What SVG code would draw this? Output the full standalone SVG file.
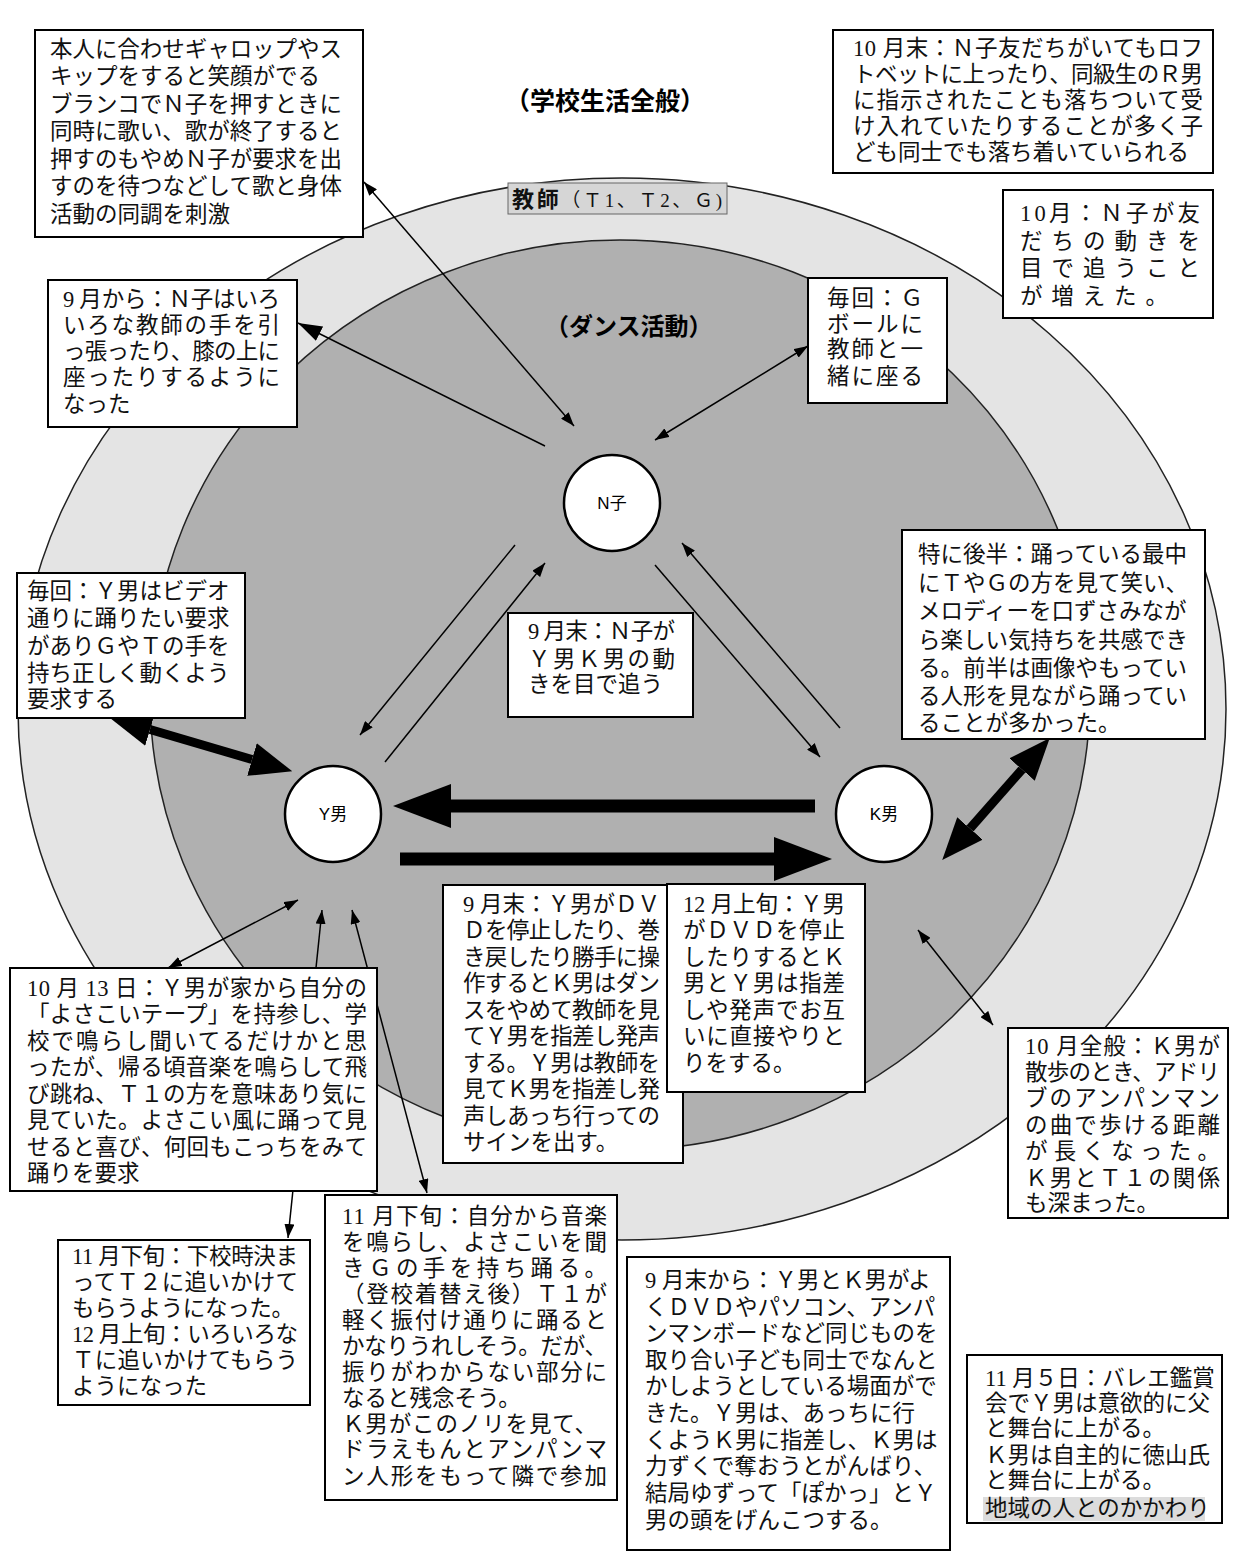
<svg xmlns="http://www.w3.org/2000/svg" width="1244" height="1568" viewBox="0 0 1244 1568">
<style>
.box{fill:#fff;stroke:#000;stroke-width:2}
.t{font-family:"Liberation Serif","Noto Sans CJK JP",serif;font-size:22.5px;fill:#111}
.n{font-family:"Liberation Sans","Noto Sans CJK JP",sans-serif;font-size:17px;fill:#000;text-anchor:middle}
.ttl{font-family:"Noto Sans CJK JP",sans-serif;font-weight:bold;fill:#000}
.cn{fill:#fff;stroke:#000;stroke-width:2.5}
.ln{stroke:#000;stroke-width:1.5;fill:none}
</style>
<defs>
<marker id="ah" markerUnits="userSpaceOnUse" viewBox="0 0 14 10" markerWidth="14" markerHeight="10" refX="14" refY="5" orient="auto-start-reverse"><path d="M0,0L14,5L0,10z" fill="#000"/></marker>
<marker id="mh" markerUnits="userSpaceOnUse" viewBox="0 0 24 16" markerWidth="24" markerHeight="16" refX="24" refY="8" orient="auto-start-reverse"><path d="M0,0L24,8L0,16z" fill="#000"/></marker>
<marker id="bh" markerUnits="userSpaceOnUse" viewBox="0 0 58 44" markerWidth="58" markerHeight="44" refX="0" refY="22" orient="auto-start-reverse"><path d="M0,0L58,22L0,44z" fill="#000"/></marker>
<marker id="dh" markerUnits="userSpaceOnUse" viewBox="0 0 42 34" markerWidth="42" markerHeight="34" refX="0" refY="17" orient="auto-start-reverse"><path d="M0,0L42,17L0,34z" fill="#000"/></marker>
</defs>
<rect width="1244" height="1568" fill="#fff"/>
<g id="areas">
<ellipse cx="622" cy="709" rx="604" ry="531" fill="#e4e4e4" stroke="#222" stroke-width="1.5"/>
<ellipse cx="620" cy="695" rx="470" ry="455" fill="#b0b0b0" stroke="#222" stroke-width="1.5"/>
<text class="ttl" x="505" y="110" font-size="25">（学校生活全般）</text>
<text class="ttl" x="545" y="335" font-size="24">（ダンス活動）</text>
<rect x="508" y="183" width="219" height="31" fill="#d6d6d6" stroke="#666" stroke-width="1"/>
<text x="512" y="207" font-family="Liberation Serif,'Noto Sans CJK JP',serif" font-size="19" fill="#111" textLength="210"><tspan font-family="Liberation Sans,'Noto Sans CJK JP',sans-serif" font-weight="bold" font-size="22">教師</tspan>（Ｔ1、Ｔ2、Ｇ)</text>
</g>
<g id="connectors">
<line class="ln" x1="364" y1="182" x2="574" y2="426" marker-start="url(#ah)" marker-end="url(#ah)"/>
<line class="ln" x1="545" y1="446" x2="298" y2="323" stroke-width="2.5" marker-end="url(#mh)"/>
<line class="ln" x1="808" y1="346" x2="655" y2="440" marker-start="url(#ah)" marker-end="url(#ah)"/>
<line class="ln" x1="515" y1="545" x2="360" y2="735" marker-end="url(#ah)"/>
<line class="ln" x1="385" y1="762" x2="545" y2="563" marker-end="url(#ah)"/>
<line class="ln" x1="655" y1="565" x2="820" y2="757" marker-end="url(#ah)"/>
<line class="ln" x1="840" y1="728" x2="682" y2="543" marker-end="url(#ah)"/>
<line x1="815" y1="806" x2="451" y2="806" stroke="#000" stroke-width="13" marker-end="url(#bh)"/>
<line x1="400" y1="859" x2="774" y2="859" stroke="#000" stroke-width="13" marker-end="url(#bh)"/>
<line x1="150" y1="729.5" x2="252" y2="759.5" stroke="#000" stroke-width="9" marker-start="url(#dh)" marker-end="url(#dh)"/>
<line x1="1022" y1="769.5" x2="970" y2="828.5" stroke="#000" stroke-width="9" marker-start="url(#dh)" marker-end="url(#dh)"/>
<line class="ln" x1="918" y1="930" x2="993" y2="1025" marker-start="url(#ah)" marker-end="url(#ah)"/>
<line class="ln" x1="298" y1="900" x2="168" y2="968" marker-start="url(#ah)" marker-end="url(#ah)"/>
<line class="ln" x1="322" y1="910" x2="288" y2="1238" marker-start="url(#ah)" marker-end="url(#ah)"/>
<line class="ln" x1="352" y1="910" x2="427" y2="1193" marker-start="url(#ah)" marker-end="url(#ah)"/>
</g>
<g id="node-N">
<circle class="cn" cx="612" cy="503" r="48"/>
<text class="n" x="612" y="509">N子</text>
</g>
<g id="node-Y">
<circle class="cn" cx="333" cy="814" r="48"/>
<text class="n" x="333" y="820">Y男</text>
</g>
<g id="node-K">
<circle class="cn" cx="884" cy="814" r="48"/>
<text class="n" x="884" y="820">K男</text>
</g>
<g id="box1">
<rect class="box" x="35" y="30" width="328" height="207"/>
<text class="t" x="50" y="56.5" textLength="292">本人に合わせギャロップやス</text>
<text class="t" x="50" y="84">キップをすると笑顔がでる</text>
<text class="t" x="50" y="111.5" textLength="292">ブランコでＮ子を押すときに</text>
<text class="t" x="50" y="139" textLength="292">同時に歌い、歌が終了すると</text>
<text class="t" x="50" y="166.5" textLength="292">押すのもやめＮ子が要求を出</text>
<text class="t" x="50" y="194" textLength="292">すのを待つなどして歌と身体</text>
<text class="t" x="50" y="221.5">活動の同調を刺激</text>
</g>
<g id="box2">
<rect class="box" x="833" y="30" width="380" height="143"/>
<text class="t" x="853" y="55.5" textLength="350">10 月末：Ｎ子友だちがいてもロフ</text>
<text class="t" x="853" y="81.5" textLength="350">トベットに上ったり、同級生のＲ男</text>
<text class="t" x="853" y="107.5" textLength="350">に指示されたことも落ちついて受</text>
<text class="t" x="853" y="133.5" textLength="350">け入れていたりすることが多く子</text>
<text class="t" x="853" y="159.5" textLength="336">ども同士でも落ち着いていられる</text>
</g>
<g id="box3">
<rect class="box" x="48" y="280" width="249" height="147"/>
<text class="t" x="63" y="306.5" textLength="217">9 月から：Ｎ子はいろ</text>
<text class="t" x="63" y="332.7" textLength="217">いろな教師の手を引</text>
<text class="t" x="63" y="359" textLength="217">っ張ったり、膝の上に</text>
<text class="t" x="63" y="385" textLength="217">座ったりするように</text>
<text class="t" x="63" y="411.5">なった</text>
</g>
<g id="box4">
<rect class="box" x="808" y="278" width="139" height="125"/>
<text class="t" x="827" y="305.5" textLength="96">毎回：Ｇ</text>
<text class="t" x="827" y="331.5" textLength="96">ボールに</text>
<text class="t" x="827" y="357" textLength="96">教師と一</text>
<text class="t" x="827" y="383.5" textLength="96">緒に座る</text>
</g>
<g id="box5">
<rect class="box" x="1003" y="190" width="210" height="128"/>
<text class="t" x="1020" y="221" textLength="180">10月：Ｎ子が友</text>
<text class="t" x="1020" y="249" textLength="180">だちの動きを</text>
<text class="t" x="1020" y="276" textLength="180">目で追うこと</text>
<text class="t" x="1020" y="304" textLength="148">が増えた。</text>
</g>
<g id="box6">
<rect class="box" x="902" y="530" width="303" height="209"/>
<text class="t" x="918" y="561.5">特に後半：踊っている最中</text>
<text class="t" x="918" y="590.5">にＴやＧの方を見て笑い、</text>
<text class="t" x="918" y="618.5">メロディーを口ずさみなが</text>
<text class="t" x="918" y="647.5">ら楽しい気持ちを共感でき</text>
<text class="t" x="918" y="675.5">る。前半は画像やもってい</text>
<text class="t" x="918" y="703.5">る人形を見ながら踊ってい</text>
<text class="t" x="918" y="730.5">ることが多かった。</text>
</g>
<g id="box7">
<rect class="box" x="17" y="573" width="228" height="145"/>
<text class="t" x="27" y="598.5">毎回：Ｙ男はビデオ</text>
<text class="t" x="27" y="625.5">通りに踊りたい要求</text>
<text class="t" x="27" y="653.5">がありＧやＴの手を</text>
<text class="t" x="27" y="680.5">持ち正しく動くよう</text>
<text class="t" x="27" y="706.5">要求する</text>
</g>
<g id="box8">
<rect class="box" x="508" y="613" width="185" height="104"/>
<text class="t" x="528" y="638.5" textLength="147">9 月末：Ｎ子が</text>
<text class="t" x="528" y="666.5" textLength="147">Ｙ男Ｋ男の動</text>
<text class="t" x="528" y="691.5">きを目で追う</text>
</g>
<g id="box9">
<rect class="box" x="443" y="885" width="240" height="278"/>
<text class="t" x="463" y="911.5" textLength="197">9 月末：Ｙ男がＤＶ</text>
<text class="t" x="463" y="938" textLength="197">Ｄを停止したり、巻</text>
<text class="t" x="463" y="964.5" textLength="197">き戻したり勝手に操</text>
<text class="t" x="463" y="991" textLength="197">作するとＫ男はダン</text>
<text class="t" x="463" y="1017.5" textLength="197">スをやめて教師を見</text>
<text class="t" x="463" y="1044" textLength="197">てＹ男を指差し発声</text>
<text class="t" x="463" y="1070.5" textLength="197">する。Ｙ男は教師を</text>
<text class="t" x="463" y="1097" textLength="197">見てＫ男を指差し発</text>
<text class="t" x="463" y="1123.5" textLength="197">声しあっち行っての</text>
<text class="t" x="463" y="1150">サインを出す。</text>
</g>
<g id="box10">
<rect class="box" x="667" y="884" width="198" height="208"/>
<text class="t" x="683" y="911.5" textLength="162">12 月上旬：Ｙ男</text>
<text class="t" x="683" y="938" textLength="162">がＤＶＤを停止</text>
<text class="t" x="683" y="964.5" textLength="162">したりするとＫ</text>
<text class="t" x="683" y="991" textLength="162">男とＹ男は指差</text>
<text class="t" x="683" y="1017.5" textLength="162">しや発声でお互</text>
<text class="t" x="683" y="1044" textLength="162">いに直接やりと</text>
<text class="t" x="683" y="1070.5">りをする。</text>
</g>
<g id="box11">
<rect class="box" x="10" y="968" width="367" height="223"/>
<text class="t" x="27" y="995.5" textLength="340">10 月 13 日：Ｙ男が家から自分の</text>
<text class="t" x="27" y="1022" textLength="340">「よさこいテープ」を持参し、学</text>
<text class="t" x="27" y="1048.5" textLength="340">校で鳴らし聞いてるだけかと思</text>
<text class="t" x="27" y="1075" textLength="340">ったが、帰る頃音楽を鳴らして飛</text>
<text class="t" x="27" y="1101.5" textLength="340">び跳ね、Ｔ１の方を意味あり気に</text>
<text class="t" x="27" y="1128" textLength="340">見ていた。よさこい風に踊って見</text>
<text class="t" x="27" y="1154.5" textLength="340">せると喜び、何回もこっちをみて</text>
<text class="t" x="27" y="1181">踊りを要求</text>
</g>
<g id="box12">
<rect class="box" x="1008" y="1028" width="220" height="190"/>
<text class="t" x="1025" y="1053.5" textLength="195">10 月全般：Ｋ男が</text>
<text class="t" x="1025" y="1079.5" textLength="195">散歩のとき、アドリ</text>
<text class="t" x="1025" y="1106" textLength="195">ブのアンパンマン</text>
<text class="t" x="1025" y="1132.5" textLength="195">の曲で歩ける距離</text>
<text class="t" x="1025" y="1159" textLength="195">が長くなった。</text>
<text class="t" x="1025" y="1185.5" textLength="195">Ｋ男とＴ１の関係</text>
<text class="t" x="1025" y="1211">も深まった。</text>
</g>
<g id="box13">
<rect class="box" x="58" y="1240" width="252" height="165"/>
<text class="t" x="72" y="1263.5" textLength="226">11 月下旬：下校時決ま</text>
<text class="t" x="72" y="1290" textLength="226">ってＴ２に追いかけて</text>
<text class="t" x="72" y="1315.5" textLength="222">もらうようになった。</text>
<text class="t" x="72" y="1341.5" textLength="226">12 月上旬：いろいろな</text>
<text class="t" x="72" y="1368" textLength="226">Ｔに追いかけてもらう</text>
<text class="t" x="72" y="1393.5">ようになった</text>
</g>
<g id="box14">
<rect class="box" x="325" y="1195" width="292" height="305"/>
<text class="t" x="342" y="1223.5" textLength="265">11 月下旬：自分から音楽</text>
<text class="t" x="342" y="1250" textLength="265">を鳴らし、よさこいを聞</text>
<text class="t" x="342" y="1276" textLength="265">きＧの手を持ち踊る。</text>
<text class="t" x="342" y="1301.5" textLength="265">（登校着替え後）Ｔ１が</text>
<text class="t" x="342" y="1328" textLength="265">軽く振付け通りに踊ると</text>
<text class="t" x="342" y="1353.5" textLength="265">かなりうれしそう。だが、</text>
<text class="t" x="342" y="1380" textLength="265">振りがわからない部分に</text>
<text class="t" x="342" y="1405.5">なると残念そう。</text>
<text class="t" x="342" y="1431.5" textLength="255">Ｋ男がこのノリを見て、</text>
<text class="t" x="342" y="1456.5" textLength="265">ドラえもんとアンパンマ</text>
<text class="t" x="342" y="1483.5" textLength="265">ン人形をもって隣で参加</text>
</g>
<g id="box15">
<rect class="box" x="627" y="1257" width="323" height="293"/>
<text class="t" x="645" y="1288">9 月末から：Ｙ男とＫ男がよ</text>
<text class="t" x="645" y="1315">くＤＶＤやパソコン、アンパ</text>
<text class="t" x="645" y="1341">ンマンボードなど同じものを</text>
<text class="t" x="645" y="1368">取り合い子ども同士でなんと</text>
<text class="t" x="645" y="1394">かしようとしている場面がで</text>
<text class="t" x="645" y="1421">きた。Ｙ男は、あっちに行</text>
<text class="t" x="645" y="1448">くようＫ男に指差し、Ｋ男は</text>
<text class="t" x="645" y="1474">力ずくで奪おうとがんばり、</text>
<text class="t" x="645" y="1501">結局ゆずって「ぽかっ」とＹ</text>
<text class="t" x="645" y="1528">男の頭をげんこつする。</text>
</g>
<g id="box16">
<rect class="box" x="967" y="1355" width="255" height="168"/>
<text class="t" x="985" y="1386">11 月５日：バレエ鑑賞</text>
<text class="t" x="985" y="1411">会でＹ男は意欲的に父</text>
<text class="t" x="985" y="1436">と舞台に上がる。</text>
<text class="t" x="985" y="1463">Ｋ男は自主的に徳山氏</text>
<text class="t" x="985" y="1488">と舞台に上がる。</text>
<rect x="983" y="1497" width="222" height="24" fill="#dcdcdc"/>
<text class="t" x="985" y="1516">地域の人とのかかわり</text>
</g>
</svg>
